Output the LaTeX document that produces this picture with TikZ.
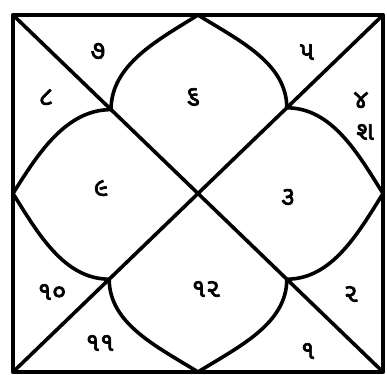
\documentclass[tikz,border=0pt]{standalone}
\usepackage{fontspec}
\newfontfamily\gujfont[Script=Gujarati,FakeBold=2.5]{Noto Sans Gujarati UI}
\usetikzlibrary{calc}
\tikzset{
  house/.style={font=\gujfont\fontsize{26}{26}\selectfont, inner sep=0pt},
  petal/.style={line width=3.6pt, line cap=round}
}
\begin{document}
\begin{tikzpicture}[x=1pt,y=-1pt,line join=round]
  \useasboundingbox (0,0) rectangle (387,374);
  % Frame corners and side midpoints
  \coordinate (tl) at (13,15);
  \coordinate (tr) at (383,15);
  \coordinate (bl) at (13,372);
  \coordinate (br) at (383,372);
  \coordinate (t) at (198,15);
  \coordinate (l) at (13,193.5);
  \coordinate (r) at (383,193.5);
  \coordinate (b) at (198,372);
  \coordinate (c) at (198,193.5);
  % Petal tips on the diagonals
  \coordinate (ptl) at ($(tl)!0.53!(c)$);
  \coordinate (ptr) at ($(tr)!0.52!(c)$);
  \coordinate (pbl) at ($(bl)!0.52!(c)$);
  \coordinate (pbr) at ($(br)!0.52!(c)$);
  % Frame
  \draw[line width=4.5pt] (tl) rectangle (br);
  % Diagonals
  \draw[line width=3.6pt] (tl) -- (br);
  \draw[line width=3.6pt] (tr) -- (bl);
  % Top petal
  \draw[petal] (t) .. controls +(-40,25) and +(0,-45) .. (ptl);
  \draw[petal] (t) .. controls +(40,25) and +(0,-45) .. (ptr);
  % Left petal
  \draw[petal] (l) .. controls +(25,-40) and +(-45,0) .. (ptl);
  \draw[petal] (l) .. controls +(25,40) and +(-45,0) .. (pbl);
  % Right petal
  \draw[petal] (r) .. controls +(-25,-40) and +(45,0) .. (ptr);
  \draw[petal] (r) .. controls +(-25,40) and +(45,0) .. (pbr);
  % Bottom petal
  \draw[petal] (b) .. controls +(-40,-25) and +(0,45) .. (pbl);
  \draw[petal] (b) .. controls +(40,-25) and +(0,45) .. (pbr);
  % House numbers
  \node[house] (h6) at (193,97) {૬};
  \node[house] (h7) at (98,51) {૭};
  \node[house] (h5) at (307,52) {૫};
  \node[house] (h8) at (46,97) {૮};
  \node[house] (h9) at (101,188) {૯};
  \node[house] (h4) at (361,100) {૪};
  \node[house] (shani) at (365,132) {શ};
  \node[house] (h3) at (288,197) {૩};
  \node[house] (h2) at (351,294) {૨};
  \node[house] (h12) at (206,289) {૧૨};
  \node[house] (h10) at (52,292) {૧૦};
  \node[house] (h11) at (100,343) {૧૧};
  \node[house] (h1) at (308,351) {૧};
\end{tikzpicture}
\end{document}
